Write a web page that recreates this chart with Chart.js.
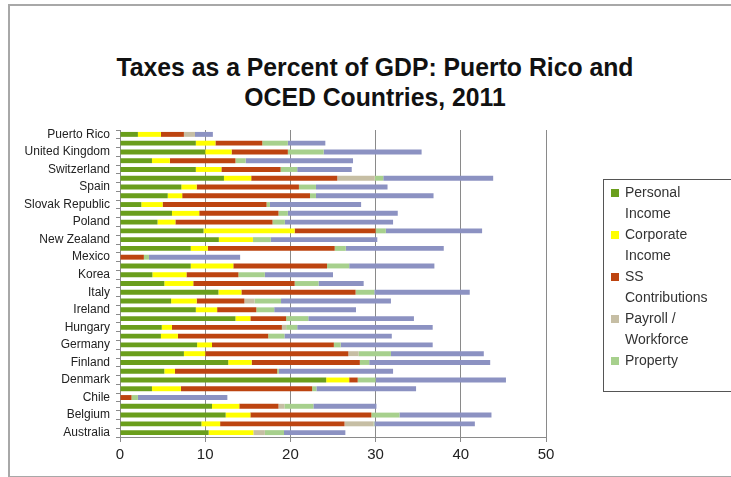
<!DOCTYPE html>
<html>
<head>
<meta charset="utf-8">
<script src="https://cdn.jsdelivr.net/npm/chart.js@4"></script>
<style>
  body { margin: 0; background: #fff; font-family: "Liberation Sans", Arial, sans-serif; }
  #wrap { position: relative; width: 731px; height: 477px; overflow: hidden; }
  #frame { position: absolute; left: 8px; top: 4px; width: 800px; height: 470px;
           border-left: 2px solid #a8a8a8; border-top: 2px solid #a8a8a8; border-bottom: 2px solid #a8a8a8; }
  #title { position: absolute; left: 0; width: 750px; top: 52px; text-align: center;
           font-weight: bold; font-size: 25px; line-height: 30px; color: #111; }
  #title span { display: inline-block; transform-origin: center; white-space: nowrap; }
  #legend { position: absolute; left: 603px; top: 179px; width: 200px; height: 209px; padding-top: 2px;
            border: 1px solid #555; font-size: 14px; color: #333; }
  .item { position: relative; padding-left: 21px; line-height: 21px; width: 100px; }
  .sw { position: absolute; left: 7px; top: 7px; width: 8px; height: 8px; }
  canvas { position: absolute; left: 0; top: 0; }
</style>
</head>
<body>
<div id="wrap">
  <div id="frame"></div>
  <div id="title"><span id="t1">Taxes as a Percent of GDP: Puerto Rico and</span><br><span id="t2">OCED Countries, 2011</span></div>
  <canvas id="bar-chart" width="731" height="477"></canvas>
  <div id="legend"></div>
</div>
<script>
// countries, top to bottom as in the picture
const countries = ["Puerto Rico", "United States", "United Kingdom", "Turkey", "Switzerland", "Sweden",
  "Spain", "Slovenia", "Slovak Republic", "Portugal", "Poland", "Norway", "New Zealand", "Netherlands",
  "Mexico", "Luxembourg", "Korea", "Japan", "Italy", "Israel", "Ireland", "Iceland", "Hungary", "Greece",
  "Germany", "France", "Finland", "Estonia", "Denmark", "Czech Republic", "Chile", "Canada", "Belgium",
  "Austria", "Australia"];

// % of GDP
const personal  = [2.1, 8.9, 10.0, 3.75, 8.9, 12.2, 7.2, 5.6, 2.5, 6.1, 4.4, 9.8, 11.6, 8.3,
  0, 8.3, 3.8, 5.2, 11.55, 6.0, 8.9, 13.55, 4.9, 4.8, 9.05, 7.5, 12.7, 5.2, 24.2, 3.75, 0, 10.8, 12.4, 9.55, 10.4];
const corporate = [2.7, 2.3, 3.1, 2.1, 3.0, 3.2, 1.8, 1.7, 2.5, 3.2, 2.1, 10.7, 4.0, 2.0,
  0, 5.0, 4.0, 3.4, 2.7, 3.0, 2.5, 1.75, 1.2, 2.0, 1.75, 2.5, 2.75, 1.25, 2.7, 3.4, 0, 3.2, 2.9, 2.2, 5.25];
const ssContrib = [2.7, 5.5, 6.6, 7.7, 6.95, 10.1, 12.0, 15.0, 12.2, 9.3, 11.4, 9.5, 0, 14.9,
  2.8, 11.0, 6.1, 11.9, 13.4, 5.6, 4.6, 4.2, 12.9, 10.6, 14.3, 16.8, 12.7, 12.0, 1.0, 15.4, 1.35, 4.6, 14.2, 14.6, 0];
const payroll   = [1.3, 0, 0, 0, 0, 4.4, 0, 0, 0, 0, 0, 0, 0, 0,
  0, 0, 0, 0, 0, 1.2, 0, 0, 0.5, 0, 0, 1.2, 0, 0, 0, 0, 0, 0.7, 0, 3.4, 1.35];
const property  = [0, 3.0, 4.2, 1.2, 1.95, 1.0, 2.0, 0.7, 0.4, 1.1, 1.45, 1.2, 2.1, 1.3,
  0.6, 2.6, 3.1, 2.8, 2.2, 3.1, 2.1, 2.6, 1.3, 1.9, 0.8, 3.8, 1.1, 0.2, 2.1, 0.5, 0.75, 3.4, 3.3, 0.1, 2.25];
const goods     = [2.1, 4.4, 11.5, 12.6, 6.4, 12.9, 8.4, 13.8, 10.7, 12.9, 12.7, 11.3, 12.5, 11.5,
  10.7, 10.0, 8.0, 5.3, 11.2, 12.9, 9.6, 12.4, 15.9, 12.6, 10.8, 10.9, 14.2, 13.4, 15.3, 11.7, 10.5, 7.4, 10.8, 11.8, 7.2];

const seriesNames  = ["Personal Income", "Corporate Income", "SS Contributions", "Payroll / Workforce", "Property", "Goods and Services"];
const seriesValues = [personal, corporate, ssContrib, payroll, property, goods];
const seriesColors = ["#6a9e1c", "#ffff00", "#bd4410", "#c6bea4", "#a7d08d", "#8c92c2"];
const xTicks = [0, 10, 20, 30, 40, 50];

// title squeezed a bit, the original is a narrow font
const t1 = document.getElementById("t1");
const t2 = document.getElementById("t2");
const sx = 517 / t1.getBoundingClientRect().width;
t1.style.transform = "scaleX(" + sx + ")";
t2.style.transform = "scaleX(" + sx + ")";

// legend (the last series is not listed in the original)
const legend = document.getElementById("legend");
for (let i = 0; i < 5; i++) {
  const d = document.createElement("div");
  d.className = "item";
  d.innerHTML = '<span class="sw" style="background:' + seriesColors[i] + '"></span>' + seriesNames[i];
  legend.appendChild(d);
}

const datasets = [];
for (let i = 0; i < seriesNames.length; i++) {
  datasets.push({
    label: seriesNames[i],
    data: seriesValues[i],
    backgroundColor: seriesColors[i],
    barPercentage: 0.7,
    categoryPercentage: 0.8
  });
}

new Chart(document.getElementById("bar-chart"), {
  type: "bar",
  data: { labels: countries, datasets: datasets },
  options: {
    indexAxis: "y",
    responsive: false,
    animation: false,
    layout: { padding: { top: 130, right: 185, bottom: 10, left: 0 } },
    plugins: { legend: { display: false }, title: { display: false }, tooltip: { enabled: false } },
    scales: {
      x: {
        stacked: true,
        min: 0, max: 50,
        afterBuildTicks: (scale) => { scale.ticks = xTicks.map((v) => ({ value: v })); },
        afterFit: (scale) => { scale.height = 30; },
        grid: { color: "#8a8a8a", tickLength: 5, lineWidth: 1 },
        border: { color: "#8a8a8a" },
        ticks: { color: "#222", font: { family: "Liberation Sans", size: 15 }, padding: 4 }
      },
      y: {
        stacked: true,
        afterFit: (scale) => { scale.width = 120; },
        grid: { drawOnChartArea: false, color: "#8a8a8a", tickLength: 4 },
        border: { color: "#8a8a8a" },
        ticks: {
          autoSkip: false,
          color: "#222",
          font: { family: "Liberation Sans", size: 12 },
          padding: 6,
          callback: function (value, index) { return index % 2 === 0 ? this.getLabelForValue(value) : ""; }
        }
      }
    }
  }
});
</script>
</body>
</html>
